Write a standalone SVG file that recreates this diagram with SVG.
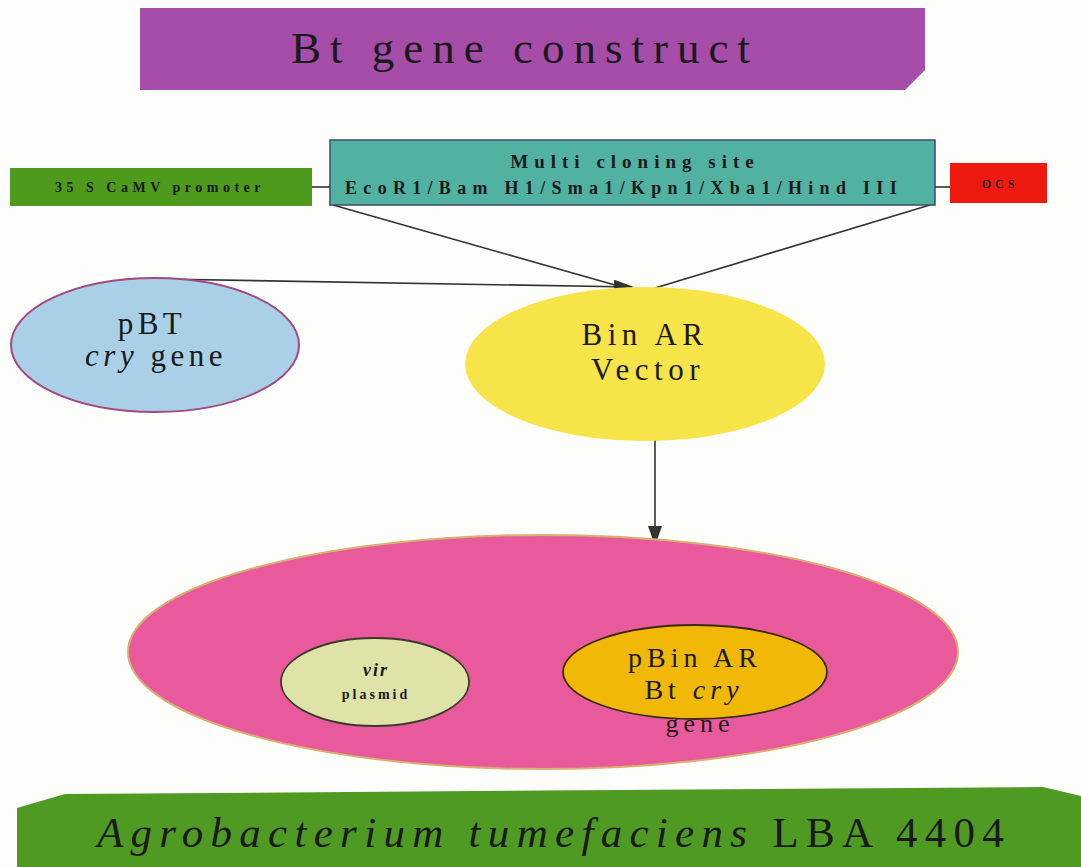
<svg xmlns="http://www.w3.org/2000/svg" width="1081" height="867" viewBox="0 0 1081 867">
<defs>
<style>
.t{font-family:"Liberation Serif","DejaVu Serif",serif;fill:#1a1a1a}
.conn{stroke:#333;stroke-width:1.6;fill:none}
</style>
<marker id="ahb" viewBox="0 0 10 10" refX="9" refY="5" markerWidth="20" markerHeight="14" markerUnits="userSpaceOnUse" orient="auto" preserveAspectRatio="none">
<path d="M0,0 L10,5 L0,10 Z" fill="#333"/>
</marker>
</defs>
<rect width="1081" height="867" fill="#fdfdfb"/>
<g id="connectors">
<line class="conn" x1="312" y1="187" x2="330" y2="187"/>
<line class="conn" x1="935" y1="187" x2="950" y2="187"/>
<line class="conn" x1="333" y1="205" x2="622" y2="287"/>
<line class="conn" x1="930" y1="205" x2="655" y2="288"/>
<line class="conn" x1="160" y1="279" x2="632" y2="287" marker-end="url(#ahb)"/>
<line class="conn" x1="655" y1="440" x2="655" y2="544" marker-end="url(#ahb)"/>
</g>
<g id="title">
<polygon points="140,8 925,8 925,70 905,90 140,90" fill="#a64ca9"/>
<text class="t" x="525" y="63" font-size="45" text-anchor="middle" letter-spacing="9">Bt gene construct</text>
</g>
<g id="promoter">
<rect x="10" y="168" width="302" height="38" fill="#4e9a1c"/>
<text class="t" x="160" y="192" font-size="14" font-weight="bold" text-anchor="middle" letter-spacing="4.5" fill="#2a3a10">35 S CaMV promoter</text>
</g>
<g id="mcs">
<rect x="330" y="140" width="605" height="65" fill="#52b2a2" stroke="#3a4a70" stroke-width="1.5"/>
<text class="t" x="635" y="168" font-size="19" font-weight="bold" text-anchor="middle" letter-spacing="6">Multi cloning site</text>
<text class="t" x="624" y="194" font-size="18" font-weight="bold" text-anchor="middle" letter-spacing="6.3">EcoR1/Bam H1/Sma1/Kpn1/Xba1/Hind III</text>
</g>
<g id="ocs">
<rect x="950" y="163" width="97" height="40" fill="#ee1a10"/>
<text class="t" x="1000" y="188" font-size="12" font-weight="bold" text-anchor="middle" letter-spacing="4" fill="#8a1a10">OCS</text>
</g>
<g id="pbt">
<ellipse cx="155" cy="345" rx="144" ry="67" fill="#a9d0e6" stroke="#a04a80" stroke-width="2"/>
<text class="t" x="152" y="334" font-size="31" text-anchor="middle" letter-spacing="4.5">pBT</text>
<text class="t" x="156" y="366" font-size="31" text-anchor="middle" letter-spacing="4.5"><tspan font-style="italic">cry</tspan> gene</text>
</g>
<g id="binar">
<ellipse cx="645" cy="364" rx="180" ry="77" fill="#f6e448"/>
<text class="t" x="645" y="345" font-size="31" text-anchor="middle" letter-spacing="5.5">Bin AR</text>
<text class="t" x="648" y="380" font-size="31" text-anchor="middle" letter-spacing="5.5">Vector</text>
</g>
<g id="agro">
<ellipse cx="543" cy="652" rx="415" ry="117" fill="#e95a9c" stroke="#d8b070" stroke-width="2"/>
<text class="t" x="700" y="732" font-size="26" text-anchor="middle" letter-spacing="5" fill="#5a2a3a">gene</text>
</g>
<g id="vir">
<ellipse cx="375" cy="682" rx="94" ry="44" fill="#dfe3a8" stroke="#3a3a2a" stroke-width="1.8"/>
<text class="t" x="376" y="676" font-size="18" font-weight="bold" font-style="italic" text-anchor="middle" letter-spacing="2">vir</text>
<text class="t" x="376" y="699" font-size="14" font-weight="bold" text-anchor="middle" letter-spacing="3">plasmid</text>
</g>
<g id="pbinar">
<ellipse cx="695" cy="672" rx="132" ry="47" fill="#f2b808" stroke="#3a2a10" stroke-width="1.8"/>
<text class="t" x="695" y="667" font-size="28" text-anchor="middle" letter-spacing="5">pBin AR</text>
<text class="t" x="694" y="699" font-size="28" text-anchor="middle" letter-spacing="5">Bt <tspan font-style="italic">cry</tspan></text>
</g>
<g id="bottom">
<polygon points="17,808 65,794 1043,787 1081,796 1081,867 17,867" fill="#4f9a22"/>
<text class="t" x="554" y="847" font-size="43" text-anchor="middle" letter-spacing="7.3"><tspan font-style="italic">Agrobacterium tumefaciens</tspan> LBA 4404</text>
</g>
</svg>
